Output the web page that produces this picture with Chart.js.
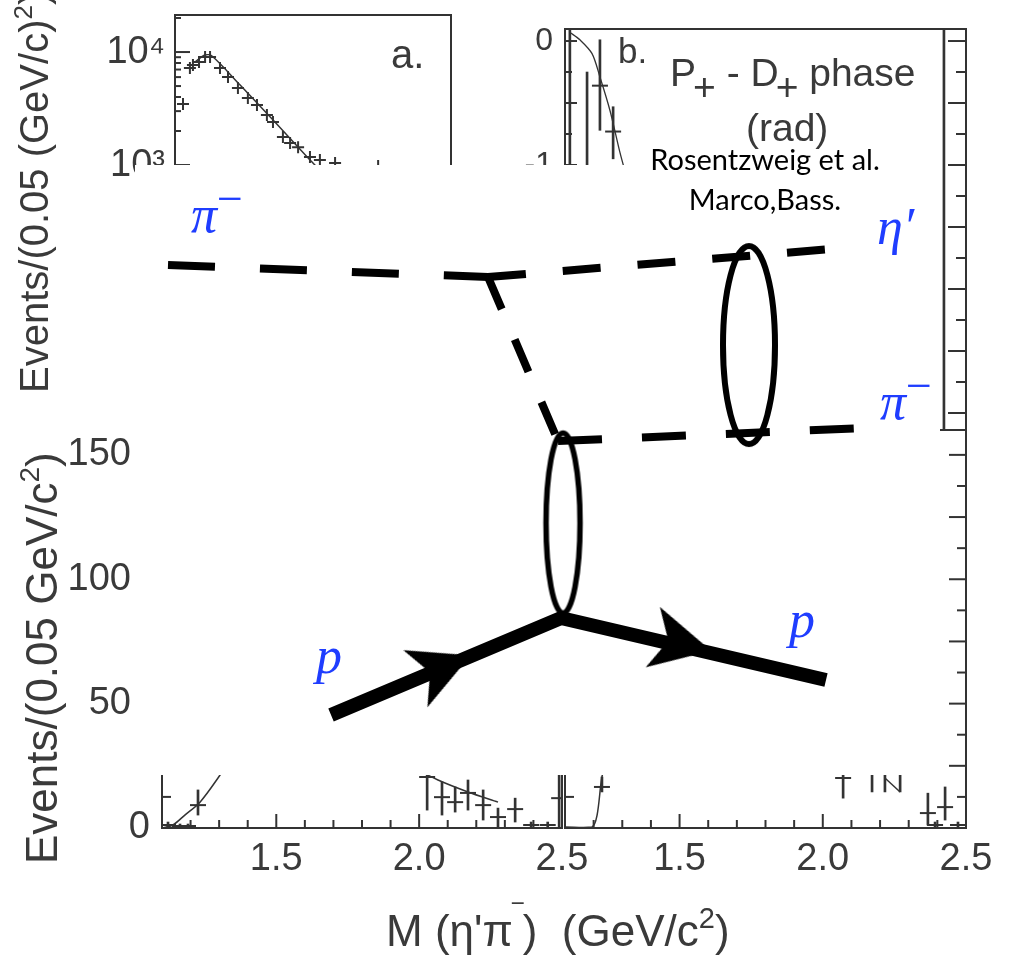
<!DOCTYPE html>
<html>
<head>
<meta charset="utf-8">
<title>M(η'π⁻) spectrum with exchange diagram</title>
<script src="https://cdn.jsdelivr.net/npm/chart.js@4.4.1/dist/chart.umd.min.js"></script>
<style>
  html, body { margin: 0; padding: 0; background: #fff; }
  #page { position: relative; width: 1017px; height: 960px; overflow: hidden; }
  .layer { position: absolute; left: 0; top: 0; }
  #feyn { position: absolute; left: 135px; top: 165px; background: #fff; z-index: 2; }
  .lbl { position: absolute; white-space: nowrap; line-height: 1; font-family: "Liberation Sans", Arial, sans-serif; color: #3a3a3a; z-index: 1; }
  .rot { transform-origin: 0 0; transform: rotate(-90deg); }
  .up { position: relative; }
  .math { position: absolute; white-space: nowrap; line-height: 1; font-family: "Liberation Serif", serif; font-style: italic; font-size: 52px; color: #1f3dff; z-index: 3; }
  .note { position: absolute; width: 300px; text-align: center; white-space: nowrap; line-height: 1; font-family: Lato, "Open Sans", sans-serif; font-size: 29px; color: #000; z-index: 3; }
</style>
</head>
<body>
<div id="page">
  <canvas id="panelA" class="layer" width="1017" height="960"></canvas>
  <canvas id="panelB" class="layer" width="1017" height="960"></canvas>
  <canvas id="panelC" class="layer" width="1017" height="960"></canvas>
  <canvas id="panelD" class="layer" width="1017" height="960"></canvas>

  <div class="lbl rot" style="left:14px; top:393px; font-size:40px;">Events/(0.05 (GeV/c)<span class="up" style="font-size:26px; top:-16px;">2</span>)</div>
  <div class="lbl rot" style="left:20px; top:864px; font-size:44px;">Events/(0.05 GeV/c<span class="up" style="font-size:28px; top:-18px;">2</span>)</div>
  <div class="lbl" style="left:386px; top:909px; font-size:44px;">M (η'π<span class="up" style="top:-20px; font-size:30px;">‾</span>)&nbsp; (GeV/c<span class="up" style="font-size:29px; top:-18px;">2</span>)</div>

  <div class="lbl" style="left:391px; top:34px; font-size:40px;">a.</div>
  <div class="lbl" style="left:618px; top:33px; font-size:35px;">b.</div>
  <div class="lbl" style="left:670px; top:53px; font-size:39px;">P<span class="up" style="top:14px; margin-left:-3px;">+</span> - D<span class="up" style="top:14px; margin-left:-3px;">+</span> phase</div>
  <div class="lbl" style="left:746px; top:108px; font-size:39px;">(rad)</div>

  <canvas id="feyn" width="805" height="610"></canvas>

  <div class="note" style="left:615px; top:144px;">Rosentzweig et al.</div>
  <div class="note" style="left:615px; top:184px;">Marco,Bass.</div>

  <div class="math" style="left:191px; top:189px;">π<span class="up" style="top:-18px; font-size:46px; font-style:normal;">−</span></div>
  <div class="math" style="left:877px; top:201px;">η′</div>
  <div class="math" style="left:880px; top:376px;">π<span class="up" style="top:-18px; font-size:46px; font-style:normal;">−</span></div>
  <div class="math" style="left:316px; top:630px;">p</div>
  <div class="math" style="left:789px; top:594px;">p</div>
</div>

<script>
// ---- panel a: -t distribution, log scale ----
const aT = [0.029, 0.054, 0.065, 0.087, 0.109, 0.127, 0.163, 0.192, 0.228, 0.264, 0.297, 0.333, 0.355, 0.391, 0.417, 0.446, 0.489, 0.525, 0.580, 0.736];
const aEvents = [3470, 7210, 7670, 8160, 9030, 9030, 7210, 6010, 4800, 3920, 3400, 2770, 2400, 1770, 1570, 1440, 1180, 1110, 1040, 980];
const aFitT = [0.072, 0.109, 0.134, 0.236, 0.362, 0.489, 0.525, 0.600];
const aFitEvents = [8150, 9400, 9220, 5100, 2400, 1110, 905, 650];

// ---- panel b: P+ - D+ phase ----
const bFitMass = [1.117, 1.152, 1.194, 1.222, 1.257, 1.292, 1.313];
const bFitPhase = [0.07, 0.01, -0.10, -0.29, -0.56, -0.90, -1.08];
const bMass = [1.177, 1.222, 1.268];
const bPhase = [-1.2, -0.36, -0.73];
const bErrLo = [-1.9, -0.72, -0.95];
const bErrHi = [-0.25, 0.01, -0.53];
const bEdgeMass = [1.117, 2.423];
const bEdgeLo = [-3.2, -3.2];
const bEdgeHi = [0.2, 0.2];

// ---- panels c and d: events per 0.05 GeV/c^2 ----
const cMass = [1.121, 1.163, 1.191, 1.226, 2.028, 2.080, 2.126, 2.171, 2.224, 2.276, 2.336, 2.392, 2.450, 2.490];
const cEvents = [1.2, 0.8, 0.8, 9.2, 20.5, 12.4, 10.4, 14.1, 9.2, 4.4, 7.6, 1.2, 1.2, 12];
const cErrLo = [0, 0, 0, 5.2, 7.2, 5.2, 6.4, 7.2, 3.2, 0, 2.4, 0, 0, 0];
const cErrHi = [2.4, 1.6, 1.6, 15.3, 30, 18.5, 16.5, 19.3, 15.3, 8, 12, 2.4, 2.4, 25];
const cFitMassL = [1.10, 1.138, 1.18, 1.233, 1.296, 1.37];
const cFitEventsL = [0, 1.2, 5.2, 10.4, 20.1, 33];
const cFitMassR = [1.93, 2.066, 2.171, 2.276];
const cFitEventsR = [27, 19.3, 14.5, 10.4];

const dMass = [1.229, 2.071, 2.172, 2.217, 2.270, 2.367, 2.392, 2.427, 2.472];
const dEvents = [16.5, 20.1, 22, 24, 22, 6, 1.2, 8.4, 1.2];
const dErrLo = [14.5, 12, 14.5, 14.5, 14.5, 1.2, 0, 3.2, 0];
const dErrHi = [20.5, 28, 30, 32, 30, 14, 2.4, 16.5, 2.4];
const dFitMassL = [1.10, 1.194, 1.212, 1.229, 1.26];
const dFitEventsL = [0.4, 0.4, 5.2, 20.5, 35];
const dFitMassR = [2.217, 2.270];
const dFitEventsR = [20.1, 14.5];

// tick labels that are printed
const massLabels = [1.5, 2.0, 2.5];
const countLabels = [0, 50, 100, 150];
const decadeLabels = [3, 4];

// ---- exchange diagram, in inset units (0-100 across, 0-100 down) ----
const pionInX = [4.10, 43.85], pionInY = [16.39, 18.36];
const exchangeX = [43.85, 52.55], exchangeY = [18.36, 45.25];
const etaOutX = [43.85, 86.58], etaOutY = [18.36, 13.77];
const pionOutX = [52.55, 90.68], pionOutY = [45.25, 43.11];
const protonX = [24.35, 52.92, 85.84], protonY = [90.16, 74.26, 84.43];
const arrowX = [38.26, 67.95], arrowY = [82.30, 78.52];
const blobX = [76.27, 53.17], blobY = [29.51, 58.69];

const INK = '#333';
const SUP = ['⁰', '¹', '²', '³', '⁴', '⁵', '⁶', '⁷', '⁸', '⁹'];

Chart.defaults.animation = false;
Chart.defaults.font.family = '"Liberation Sans", Arial, sans-serif';
Chart.defaults.color = '#3a3a3a';
Chart.defaults.plugins.legend.display = false;
Chart.defaults.plugins.tooltip.enabled = false;

const near = (a, b) => Math.abs(a - b) < 1e-6;
const mant = v => v / Math.pow(10, Math.floor(Math.log10(v) + 1e-9));
const isDecade = v => near(mant(v), 1);
const every = (v, step) => near(v / step, Math.round(v / step));

// inward tick marks per canvas
const TICK_MARKS = {
  panelA: [{ axis: 'y', sides: ['left'], length: v => isDecade(v) ? 15 : (near(mant(v), Math.round(mant(v))) ? 6 : 0) }],
  panelB: [{ axis: 'y', sides: ['left', 'right'], length: (v, side) => {
    if (!every(v, 0.25)) return 0;
    const long = every(v, 0.5);
    return side === 'right' ? (long ? 18 : 10) : (long ? 12 : 7);
  } }],
  panelC: [
    { axis: 'x', sides: ['bottom'], length: v => every(v, 0.5) ? 14 : (every(v, 0.1) ? 8 : 0) },
    { axis: 'y', sides: ['left'], length: v => every(v, 25) ? 17 : (every(v, 12.5) ? 9 : 0) }
  ],
  panelD: [
    { axis: 'x', sides: ['bottom'], length: v => every(v, 0.5) ? 14 : (every(v, 0.1) ? 8 : 0) },
    { axis: 'y', sides: ['left', 'right'], length: v => every(v, 25) ? 17 : (every(v, 12.5) ? 9 : 0) }
  ]
};

const frameTicks = {
  id: 'frameTicks',
  afterDatasetsDraw(chart) {
    const marks = TICK_MARKS[chart.canvas.id];
    if (!marks) return;
    const { ctx, chartArea: a } = chart;
    ctx.save();
    ctx.strokeStyle = INK;
    ctx.lineWidth = 2;
    marks.forEach(m => {
      const s = chart.scales[m.axis];
      s.ticks.forEach(t => {
        const p = s.getPixelForValue(t.value);
        m.sides.forEach(side => {
          const len = m.length(t.value, side);
          if (!len) return;
          ctx.beginPath();
          if (side === 'left') { ctx.moveTo(a.left, p); ctx.lineTo(a.left + len, p); }
          if (side === 'right') { ctx.moveTo(a.right, p); ctx.lineTo(a.right - len, p); }
          if (side === 'bottom') { ctx.moveTo(p, a.bottom); ctx.lineTo(p, a.bottom - len); }
          ctx.stroke();
        });
      });
    });
    ctx.strokeRect(a.left, a.top, a.width, a.height);
    ctx.restore();
  }
};
Chart.register(frameTicks);

// fixed axis sizes so every panel lands where it sits in the figure
function fixY(w) { return s => { s.width = w; s.paddingTop = 0; s.paddingBottom = 0; }; }
function fixX(h) { return s => { s.height = h; s.paddingLeft = 0; s.paddingRight = 0; }; }
const noPad = s => { s.paddingLeft = 0; s.paddingRight = 0; s.paddingTop = 0; s.paddingBottom = 0; };
const quiet = { grid: { display: false, drawTicks: false }, border: { display: false } };

const pts = (xs, ys) => xs.map((x, i) => ({ x, y: ys[i] }));

function curve(xs, ys, width) {
  return { type: 'scatter', data: pts(xs, ys), showLine: true, pointRadius: 0, borderColor: INK, borderWidth: width || 1.5, tension: 0.3 };
}
function errBars(xs, lo, hi) {
  return { type: 'bar', data: xs.map((x, i) => ({ x, y: [lo[i], hi[i]] })), backgroundColor: INK, barThickness: 2, grouped: false, borderWidth: 0 };
}
function marks(xs, ys, style, r) {
  return { type: 'scatter', data: pts(xs, ys), pointStyle: style, pointRadius: r, borderColor: INK, backgroundColor: INK, borderWidth: 2 };
}

const massAxis = (showLabels) => ({
  type: 'linear', min: 1.1, max: 2.5, offset: false, ...quiet,
  grid: { display: false, drawTicks: false, offset: false },
  ticks: {
    display: showLabels, stepSize: 0.1, includeBounds: false, autoSkip: false, padding: 9, maxRotation: 0, font: { size: 38 },
    callback: v => massLabels.some(m => near(m, v)) ? v.toFixed(1) : ''
  },
  afterFit: showLabels ? fixX(60) : noPad
});

// panel a
new Chart(document.getElementById('panelA'), {
  type: 'scatter',
  data: { datasets: [curve(aFitT, aFitEvents), marks(aT, aEvents, 'cross', 6)] },
  options: {
    responsive: false,
    layout: { padding: { left: 95, right: 566, top: 15, bottom: 530 }, autoPadding: false },
    scales: {
      x: { type: 'linear', min: 0, max: 1, display: false, ticks: { display: false }, afterFit: noPad },
      y: {
        type: 'logarithmic', min: 4.52, max: 21270, ...quiet,
        ticks: { autoSkip: false, padding: 10, font: { size: 38 },
          callback: v => {
            const e = Math.round(Math.log10(v));
            return isDecade(v) && decadeLabels.includes(e) ? '10' + SUP[e] : '';
          } },
        afterFit: fixY(80)
      }
    }
  }
});

// panel b
new Chart(document.getElementById('panelB'), {
  type: 'scatter',
  data: { datasets: [
    curve(bFitMass, bFitPhase, 1.3),
    errBars(bMass, bErrLo, bErrHi),
    marks(bMass, bPhase, 'line', 8),
    errBars(bEdgeMass, bEdgeLo, bEdgeHi)
  ] },
  options: {
    responsive: false,
    layout: { padding: { left: 505, right: 51, top: 29, bottom: 530 }, autoPadding: false },
    scales: {
      x: { ...massAxis(false), display: false },
      y: {
        type: 'linear', min: -3.137, max: 0.097, ...quiet,
        ticks: { stepSize: 0.25, includeBounds: false, autoSkip: false, padding: 12, font: { size: 32 },
          callback: v => near(v, Math.round(v)) ? String(Math.round(v) || 0) : '' },
        afterFit: fixY(60)
      }
    }
  }
});

// counts axis: "0" sits close to the frame, the others further out (en space)
const countAxis = {
  type: 'linear', min: 0, max: 160, ...quiet,
  ticks: { stepSize: 12.5, includeBounds: false, autoSkip: false, padding: 12, font: { size: 38 },
    callback: v => countLabels.some(c => near(c, v)) ? (v === 0 ? '0' : v + '\u2002') : '' },
  afterFit: fixY(100)
};

// panel c
new Chart(document.getElementById('panelC'), {
  type: 'scatter',
  data: { datasets: [
    curve(cFitMassL, cFitEventsL),
    curve(cFitMassR, cFitEventsR),
    errBars(cMass, cErrLo, cErrHi),
    marks(cMass, cEvents, 'line', 8)
  ] },
  options: {
    responsive: false,
    layout: { padding: { left: 62, right: 455, top: 430, bottom: 72 }, autoPadding: false },
    scales: { x: massAxis(true), y: countAxis }
  }
});

// panel d
new Chart(document.getElementById('panelD'), {
  type: 'scatter',
  data: { datasets: [
    curve(dFitMassL, dFitEventsL),
    curve(dFitMassR, dFitEventsR),
    errBars(dMass, dErrLo, dErrHi),
    marks(dMass, dEvents, 'line', 8)
  ] },
  options: {
    responsive: false,
    layout: { padding: { left: 565, right: 51, top: 430, bottom: 72 }, autoPadding: false },
    scales: {
      x: massAxis(true),
      y: { ...countAxis, ticks: { ...countAxis.ticks, display: false }, afterFit: fixY(0) }
    }
  }
});

// point glyphs for the diagram: blobs and arrow heads
function ellipseGlyph(rx, ry, lw) {
  const c = document.createElement('canvas');
  c.width = 2 * rx + lw + 4; c.height = 2 * ry + lw + 4;
  const g = c.getContext('2d');
  g.lineWidth = lw; g.strokeStyle = '#000';
  g.beginPath(); g.ellipse(c.width / 2, c.height / 2, rx, ry, 0, 0, 2 * Math.PI); g.stroke();
  return c;
}
function dartGlyph(len, wide, notch) {
  const c = document.createElement('canvas');
  c.width = len; c.height = wide;
  const g = c.getContext('2d');
  g.fillStyle = '#000';
  g.beginPath();
  g.moveTo(len, wide / 2); g.lineTo(0, 0); g.lineTo(notch, wide / 2); g.lineTo(0, wide);
  g.closePath(); g.fill();
  return c;
}

const dash = (xs, ys, pattern) => ({
  data: pts(xs, ys), showLine: true, pointRadius: 0, borderColor: '#000', borderWidth: 8,
  borderDash: pattern, borderCapStyle: 'butt', tension: 0
});

new Chart(document.getElementById('feyn'), {
  type: 'scatter',
  data: { datasets: [
    dash(pionInX, pionInY, [47, 45]),
    dash(exchangeX, exchangeY, [35, 33]),
    dash(etaOutX, etaOutY, [38, 37]),
    dash(pionOutX, pionOutY, [44, 40]),
    { data: pts(protonX, protonY), showLine: true, pointRadius: 0, borderColor: '#000', borderWidth: 14,
      borderCapStyle: 'butt', borderJoinStyle: 'miter', tension: 0 },
    { data: pts(arrowX, arrowY), pointStyle: dartGlyph(60, 62, 16), pointRadius: 10, pointRotation: [-22.9, 13.2] },
    { data: pts(blobX, blobY), pointStyle: [ellipseGlyph(26, 99, 6), ellipseGlyph(17, 90, 5.5)], pointRadius: 10 }
  ] },
  options: {
    responsive: false,
    layout: { padding: 0, autoPadding: false },
    plugins: { frameTicks: false },
    scales: {
      x: { type: 'linear', min: 0, max: 100, display: false, ticks: { display: false }, afterFit: noPad },
      y: { type: 'linear', min: 0, max: 100, reverse: true, display: false, ticks: { display: false }, afterFit: noPad }
    }
  }
});
</script>
</body>
</html>
